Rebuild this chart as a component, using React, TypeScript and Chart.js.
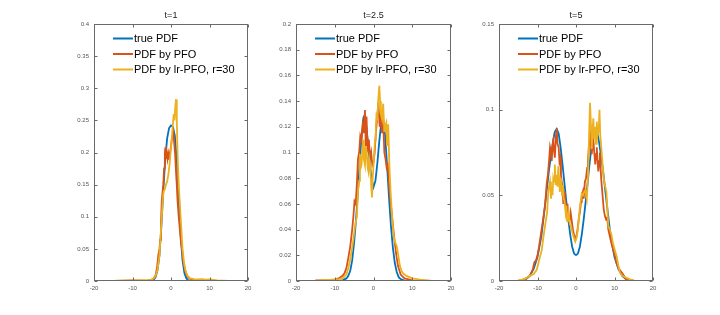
import { useEffect, useRef } from 'react';
import { Chart, registerables } from 'chart.js';

Chart.register(...registerables);

// ---------- labels / styling constants ----------
const seriesLabels = ['true PDF', 'PDF by PFO', 'PDF by lr-PFO, r=30'];
const seriesColors = ['#0072BD', '#D95319', '#EDB120'];
const panelTitles = ['t=1', 't=2.5', 't=5'];
const xMin = -20;
const xMax = 20;
const xStep = 10;
const yMaxes = [0.4, 0.2, 0.15];
const ySteps = [0.05, 0.02, 0.05];

// ---------- t = 1 ----------
const t1TrueX = [-15, -6, -5, -4.5, -4, -3.5, -3, -2.5, -2, -1.5, -1, -0.5, 0, 0.5, 1, 1.5, 2, 2.5, 3, 3.5, 4, 4.5, 5, 6, 15];
const t1TrueY = [0, 0, 0.0005, 0.002, 0.006, 0.017, 0.04, 0.085, 0.14, 0.19, 0.222, 0.238, 0.242, 0.24, 0.226, 0.188, 0.128, 0.072, 0.032, 0.012, 0.004, 0.001, 0.0003, 0, 0];

const t1PfoX = [-15, -12, -10, -8, -6, -5, -4.5, -4, -3.6, -3.3, -3, -2.8, -2.6, -2.4, -2.2, -2, -1.8, -1.6, -1.45, -1.3, -1.1, -0.9, -0.7, -0.5, -0.3, -0.1, 0.1, 0.3, 0.5, 0.7, 0.9, 1.1, 1.3, 1.5, 1.7, 2, 2.3, 2.6, 2.9, 3.2, 3.6, 4.2, 5, 6, 8, 10, 12, 15];
const t1PfoY = [0.0003, 0.0005, 0.0008, 0.0005, 0.001, 0.002, 0.004, 0.009, 0.022, 0.04, 0.05, 0.064, 0.09, 0.125, 0.138, 0.15, 0.175, 0.2, 0.208, 0.19, 0.2, 0.19, 0.198, 0.19, 0.2, 0.205, 0.215, 0.225, 0.237, 0.225, 0.21, 0.195, 0.17, 0.15, 0.125, 0.1, 0.08, 0.06, 0.048, 0.03, 0.018, 0.007, 0.003, 0.001, 0.0005, 0.0008, 0.0003, 0.0003];

const t1LrX = [-15, -13, -10, -8, -6, -5, -4.5, -4, -3.5, -3, -2.7, -2.4, -2.1, -1.9, -1.6, -1.3, -1, -0.7, -0.4, -0.1, 0.2, 0.5, 0.7, 0.9, 1.1, 1.3, 1.5, 1.7, 1.9, 2.1, 2.4, 2.7, 3, 3.4, 3.8, 4.3, 5, 6, 7, 8, 9, 10, 12, 15];
const t1LrY = [0, 0.0005, 0.001, 0.0015, 0.001, 0.002, 0.004, 0.008, 0.018, 0.04, 0.07, 0.1, 0.13, 0.14, 0.143, 0.15, 0.155, 0.165, 0.18, 0.2, 0.222, 0.245, 0.26, 0.25, 0.27, 0.283, 0.25, 0.2, 0.165, 0.14, 0.11, 0.08, 0.05, 0.028, 0.015, 0.008, 0.004, 0.003, 0.0025, 0.003, 0.002, 0.0025, 0.001, 0];

// ---------- t = 2.5 ----------
const t25TrueX = [-15, -9, -8, -7, -6.5, -6, -5.5, -5, -4.5, -4, -3.5, -3, -2.5, -2, -1.5, -1, -0.5, 0, 0.5, 1, 1.5, 2, 2.5, 3, 3.5, 4, 4.5, 5, 5.5, 6, 6.5, 7, 8, 9, 15];
const t25TrueY = [0, 0, 0.0005, 0.002, 0.004, 0.008, 0.016, 0.03, 0.048, 0.07, 0.095, 0.115, 0.127, 0.124, 0.11, 0.093, 0.079, 0.073, 0.078, 0.092, 0.109, 0.123, 0.126, 0.113, 0.09, 0.065, 0.043, 0.026, 0.014, 0.007, 0.003, 0.0015, 0.0003, 0, 0];

const t25PfoX = [-15, -12, -10, -9, -8, -7.5, -7, -6.5, -6, -5.5, -5.2, -4.9, -4.6, -4.3, -4, -3.7, -3.4, -3.1, -2.8, -2.5, -2.2, -2, -1.8, -1.5, -1.2, -0.9, -0.6, -0.3, 0, 0.3, 0.6, 0.9, 1.25, 1.6, 1.9, 2.2, 2.5, 2.8, 3.1, 3.4, 3.7, 4, 4.3, 4.8, 5.3, 5.8, 6.3, 7, 8, 10, 15];
const t25PfoY = [0.0005, 0.0005, 0.001, 0.002, 0.004, 0.006, 0.01, 0.018, 0.027, 0.04, 0.05, 0.062, 0.06, 0.075, 0.095, 0.1, 0.113, 0.11, 0.122, 0.115, 0.133, 0.105, 0.128, 0.1, 0.11, 0.095, 0.1, 0.09, 0.092, 0.1, 0.115, 0.125, 0.139, 0.12, 0.13, 0.115, 0.125, 0.1, 0.095, 0.088, 0.09, 0.075, 0.065, 0.05, 0.035, 0.022, 0.012, 0.005, 0.002, 0.0005, 0];

const t25LrX = [-15, -13, -11, -9, -8, -7, -6.5, -6, -5.6, -5.2, -4.8, -4.3, -4, -3.7, -3.5, -3.3, -3.1, -2.9, -2.7, -2.5, -2.2, -2, -1.75, -1.5, -1.3, -1.1, -0.9, -0.6, -0.4, -0.2, 0, 0.2, 0.4, 0.6, 0.8, 1, 1.2, 1.5, 1.7, 1.9, 2.2, 2.5, 2.8, 3, 3.3, 3.5, 3.8, 4.1, 4.4, 4.8, 5.2, 5.6, 6, 6.4, 6.8, 7.2, 7.6, 8.5, 10, 12, 15];
const t25LrY = [0, 0.0008, 0.001, 0.0015, 0.002, 0.005, 0.01, 0.017, 0.024, 0.032, 0.042, 0.05, 0.07, 0.078, 0.099, 0.088, 0.09, 0.1, 0.11, 0.095, 0.09, 0.105, 0.1, 0.088, 0.085, 0.095, 0.091, 0.075, 0.065, 0.08, 0.09, 0.1, 0.11, 0.12, 0.131, 0.125, 0.14, 0.152, 0.14, 0.13, 0.126, 0.138, 0.116, 0.12, 0.123, 0.105, 0.122, 0.09, 0.07, 0.05, 0.035, 0.03, 0.027, 0.02, 0.012, 0.008, 0.006, 0.004, 0.002, 0.001, 0];

// ---------- t = 5 ----------
const t5TrueX = [-15, -14, -13, -12, -11, -10, -9, -8, -7, -6, -5.5, -5, -4.5, -4, -3.5, -3, -2.5, -2, -1.5, -1, -0.5, 0, 0.5, 1, 1.5, 2, 2.5, 3, 3.5, 4, 4.5, 5, 5.5, 6, 7, 8, 9, 10, 11, 12, 13, 14, 15];
const t5TrueY = [0, 0.0003, 0.001, 0.003, 0.007, 0.014, 0.026, 0.045, 0.065, 0.081, 0.087, 0.0888, 0.086, 0.078, 0.068, 0.057, 0.046, 0.036, 0.027, 0.02, 0.016, 0.0151, 0.016, 0.02, 0.027, 0.036, 0.046, 0.057, 0.068, 0.078, 0.086, 0.0885, 0.087, 0.081, 0.065, 0.045, 0.026, 0.014, 0.007, 0.003, 0.001, 0.0003, 0];

const t5PfoX = [-15, -14, -13, -12, -11.2, -10.8, -10.4, -10, -9.6, -9.2, -8.8, -8.4, -8, -7.6, -7.3, -7, -6.75, -6.5, -6.3, -6.1, -5.9, -5.7, -5.5, -5.2, -5, -4.8, -4.5, -4.3, -4.1, -3.9, -3.7, -3.5, -3.3, -3.1, -2.9, -2.6, -2.4, -2.2, -2, -1.7, -1.4, -1.1, -0.8, -0.5, -0.2, 0.1, 0.4, 0.7, 1, 1.3, 1.5, 1.8, 2, 2.3, 2.6, 2.9, 3.1, 3.4, 3.6, 3.8, 4.1, 4.3, 4.5, 4.7, 5, 5.2, 5.4, 5.6, 5.8, 6, 6.2, 6.4, 6.6, 6.9, 7.2, 7.5, 7.8, 8.1, 8.4, 8.8, 9.2, 9.7, 10.2, 10.6, 11.2, 11.9, 12.5, 13, 14, 15];
const t5PfoY = [0, 0.0005, 0.0015, 0.003, 0.007, 0.011, 0.012, 0.015, 0.02, 0.026, 0.032, 0.038, 0.045, 0.057, 0.062, 0.07, 0.078, 0.075, 0.07, 0.079, 0.082, 0.076, 0.072, 0.085, 0.089, 0.08, 0.078, 0.07, 0.072, 0.062, 0.058, 0.055, 0.045, 0.052, 0.05, 0.042, 0.04, 0.045, 0.036, 0.035, 0.04, 0.035, 0.03, 0.027, 0.025, 0.026, 0.03, 0.036, 0.04, 0.046, 0.049, 0.052, 0.048, 0.058, 0.06, 0.066, 0.07, 0.08, 0.088, 0.082, 0.074, 0.08, 0.083, 0.076, 0.068, 0.074, 0.078, 0.07, 0.064, 0.07, 0.075, 0.065, 0.058, 0.05, 0.042, 0.038, 0.036, 0.037, 0.03, 0.026, 0.022, 0.018, 0.014, 0.01, 0.007, 0.005, 0.003, 0.001, 0.0005, 0];

const t5LrX = [-15, -14, -13, -12, -11, -10.2, -9.6, -8.9, -8.5, -8.05, -7.5, -7.2, -7, -6.75, -6.5, -6.3, -6.1, -5.9, -5.7, -5.5, -5.3, -5, -4.8, -4.6, -4.4, -4.2, -3.9, -3.6, -3.4, -3.2, -3, -2.7, -2.5, -2.3, -2.1, -1.9, -1.6, -1.3, -0.9, -0.5, -0.2, 0.1, 0.5, 0.8, 1.1, 1.5, 1.8, 2.1, 2.4, 2.8, 3.1, 3.4, 3.64, 3.9, 4.1, 4.3, 4.5, 4.7, 5, 5.2, 5.4, 5.6, 5.9, 6.1, 6.3, 6.6, 6.9, 7.2, 7.5, 7.9, 8.2, 8.4, 8.8, 9.2, 9.6, 10.1, 10.6, 11, 11.4, 12, 13, 14, 15];
const t5LrY = [0.0003, 0.0008, 0.0015, 0.003, 0.004, 0.0065, 0.012, 0.018, 0.025, 0.032, 0.04, 0.052, 0.055, 0.058, 0.048, 0.055, 0.05, 0.06, 0.058, 0.068, 0.056, 0.062, 0.055, 0.067, 0.06, 0.052, 0.06, 0.05, 0.056, 0.048, 0.047, 0.04, 0.044, 0.035, 0.037, 0.04, 0.033, 0.032, 0.028, 0.025, 0.023, 0.025, 0.03, 0.038, 0.045, 0.051, 0.05, 0.052, 0.053, 0.048, 0.06, 0.085, 0.104, 0.09, 0.077, 0.088, 0.095, 0.083, 0.09, 0.08, 0.093, 0.085, 0.088, 0.1, 0.085, 0.077, 0.068, 0.06, 0.056, 0.052, 0.04, 0.032, 0.03, 0.027, 0.022, 0.018, 0.014, 0.009, 0.005, 0.003, 0.002, 0.001, 0.0005];

const panelSeries = [
  [[t1TrueX, t1TrueY], [t1PfoX, t1PfoY], [t1LrX, t1LrY]],
  [[t25TrueX, t25TrueY], [t25PfoX, t25PfoY], [t25LrX, t25LrY]],
  [[t5TrueX, t5TrueY], [t5PfoX, t5PfoY], [t5LrX, t5LrY]],
];

// ---------- layout (pixels) ----------
const plotLefts = [94, 296, 499];
const plotRights = [248, 451, 653];
const PLOT_TOP = 24;
const PLOT_BOTTOM = 281;
const H = 315;
const Y_AXIS_W = 40;
const PAD_RIGHT = 12;
const FONT = '"Liberation Sans", Arial, Helvetica, sans-serif';

const fmt = (v: number | string) => String(Number(Number(v).toFixed(6)));

const decor = {
  id: 'decor',
  afterDatasetsDraw(chart: any, _args: any, opts: any) {
    const { ctx, chartArea: a, scales } = chart;
    const xs = scales.x;
    const ys = scales.y;
    ctx.save();
    const l = Math.round(a.left) + 0.5;
    const r = Math.round(a.right) - 0.5;
    const t = Math.round(a.top) + 0.5;
    const b = Math.round(a.bottom) - 0.5;
    ctx.strokeStyle = '#6a6a6a';
    ctx.lineWidth = 1;
    ctx.strokeRect(l, t, r - l, b - t);
    ctx.beginPath();
    xs.ticks.forEach((tk: any) => {
      const p = Math.round(xs.getPixelForValue(tk.value)) + 0.5;
      ctx.moveTo(p, b); ctx.lineTo(p, b - 3);
      ctx.moveTo(p, t); ctx.lineTo(p, t + 3);
    });
    ys.ticks.forEach((tk: any) => {
      const p = Math.round(ys.getPixelForValue(tk.value)) + 0.5;
      ctx.moveTo(l, p); ctx.lineTo(l + 3, p);
      ctx.moveTo(r, p); ctx.lineTo(r - 3, p);
    });
    ctx.stroke();

    // title
    ctx.fillStyle = '#1a1a1a';
    ctx.font = `9px ${FONT}`;
    ctx.textAlign = 'center';
    ctx.textBaseline = 'middle';
    ctx.fillText(opts.title, (a.left + a.right) / 2, 16);

    // legend (box off)
    ctx.font = `11px ${FONT}`;
    ctx.textAlign = 'left';
    chart.data.datasets.forEach((ds: any, i: number) => {
      const y = 38.5 + i * 15.5;
      ctx.strokeStyle = ds.borderColor;
      ctx.lineWidth = 2;
      ctx.beginPath();
      ctx.moveTo(a.left + 19, y);
      ctx.lineTo(a.left + 39, y);
      ctx.stroke();
      ctx.fillStyle = '#000';
      ctx.fillText(ds.label, a.left + 40, y + 0.5);
    });
    ctx.restore();
  },
};

function Panel({ idx }: { idx: number }) {
  const ref = useRef<HTMLCanvasElement | null>(null);
  const L = plotLefts[idx];
  const R = plotRights[idx];
  const W = R - L + Y_AXIS_W + PAD_RIGHT;

  useEffect(() => {
    if (!ref.current) return;
    const datasets = panelSeries[idx].map(([xs, ys], s) => ({
      label: seriesLabels[s],
      data: xs.map((x, i) => ({ x, y: ys[i] })),
      borderColor: seriesColors[s],
      backgroundColor: seriesColors[s],
      borderWidth: 1.8,
      pointRadius: 0,
      tension: 0,
      fill: false,
      order: 3 - s,
    }));
    const chart = new Chart(ref.current, {
      type: 'line',
      data: { datasets },
      options: {
        responsive: false,
        animation: false,
        devicePixelRatio: 1,
        layout: { padding: { top: PLOT_TOP, right: PAD_RIGHT, left: 0, bottom: 0 } },
        scales: {
          x: {
            type: 'linear',
            min: xMin,
            max: xMax,
            grid: { display: false, drawTicks: false },
            border: { display: false },
            ticks: {
              stepSize: xStep,
              maxRotation: 0,
              autoSkip: false,
              padding: 4,
              color: '#555',
              font: { size: 6, family: FONT },
              callback: (v: any) => fmt(v),
            },
            afterFit: (s: any) => { s.height = H - PLOT_BOTTOM; },
          },
          y: {
            type: 'linear',
            min: 0,
            max: yMaxes[idx],
            grid: { display: false, drawTicks: false },
            border: { display: false },
            ticks: {
              stepSize: ySteps[idx],
              autoSkip: false,
              padding: 5,
              color: '#555',
              font: { size: 6, family: FONT },
              callback: (v: any) => fmt(v),
            },
            afterFit: (s: any) => { s.width = Y_AXIS_W; },
          },
        },
        plugins: {
          legend: { display: false },
          tooltip: { enabled: false },
          title: { display: false },
          decor: { title: panelTitles[idx] },
        } as any,
      },
      plugins: [decor],
    });
    return () => chart.destroy();
  }, [idx]);

  return (
    <canvas
      ref={ref}
      width={W}
      height={H}
      style={{ position: 'absolute', left: L - Y_AXIS_W, top: 0, width: W, height: H }}
    />
  );
}

export default function App() {
  return (
    <div style={{ position: 'fixed', left: 0, top: 0, width: 720, height: H, background: '#fff' }}>
      {[0, 1, 2].map((i) => (
        <Panel key={i} idx={i} />
      ))}
    </div>
  );
}
